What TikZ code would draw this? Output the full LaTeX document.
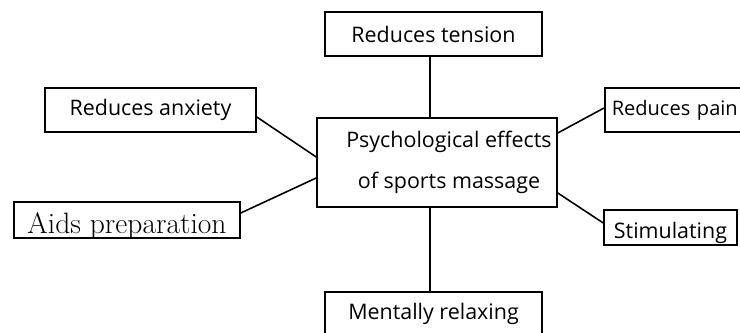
\documentclass[tikz,border=0pt]{standalone}
\usepackage{fontspec}
\setsansfont{Open Sans}
\tikzset{
  effect/.style={draw, line width=0.9pt, inner sep=0pt, minimum height=0.88cm,
    font=\sffamily\fontsize{12.2}{14}\selectfont},
  link/.style={line width=0.9pt}
}
\begin{document}
\begin{tikzpicture}[x=0.02cm,y=-0.02cm]
\useasboundingbox (0,0) rectangle (740,333);
\node[effect, minimum width=4.8cm, minimum height=1.78cm, align=center] (psy) at (437,162.5)
  {\hspace*{.48cm}Psychological effects\\[9pt]\hspace*{.48cm}of sports massage};
\node[effect, minimum width=4.34cm] (tension) at (433.5,34) {Reduces tension};
\node[effect, minimum width=4.22cm] (anxiety) at (150.5,110) {Reduces anxiety};
\node[effect, minimum width=4.52cm, minimum height=0.72cm, text height=0.64cm, text depth=0.08cm,
  font=\fontsize{16.8}{19}\selectfont] (aids) at (127,220) {Aids preparation};
\node[effect, anchor=west, inner xsep=0.14cm, text width=3.2cm, align=left,
  font=\sffamily\fontsize{11.4}{14}\selectfont] (pain) at (604,110) {Reduces pain};
\node[effect, minimum width=2.66cm, minimum height=0.7cm, text height=0.58cm, text depth=0.12cm] (stim) at (670.5,227.5) {Stimulating};
\node[effect, minimum width=4.34cm] (relax) at (433.5,314) {Mentally relaxing};
% connectors
\draw[link] ([xshift=-0.07cm]tension.south) -- ([xshift=-0.07cm]tension.south |- psy.north);
\draw[link] ([xshift=-0.07cm]relax.north |- psy.south) -- ([xshift=-0.07cm]relax.north);
\draw[link] ([yshift=-0.14cm]anxiety.east) -- ([yshift=0.11cm]psy.west);
\draw[link] ([yshift=0.14cm]aids.east) -- ([yshift=-0.31cm]psy.west);
\draw[link] ([yshift=0.59cm]psy.east) -- ([yshift=0.04cm]pain.west);
\draw[link] ([yshift=-0.61cm]psy.east) -- ([yshift=0.09cm]stim.west);
\end{tikzpicture}
\end{document}
